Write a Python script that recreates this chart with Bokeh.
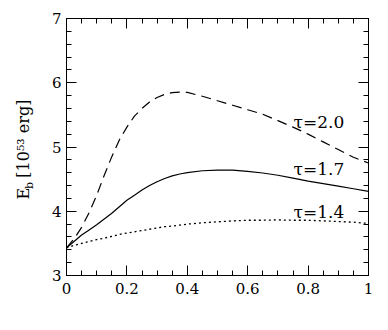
import numpy as np
from bokeh.plotting import figure
from bokeh.models import FixedTicker, LinearAxis, Label, ColumnDataSource
from bokeh.embed import file_html
from bokeh.resources import INLINE

# ---- data ----
x_vals = [0.0, 0.025, 0.05, 0.075, 0.10, 0.125, 0.15, 0.175, 0.20, 0.225, 0.25,
          0.275, 0.30, 0.325, 0.35, 0.375, 0.40, 0.45, 0.50, 0.55, 0.60, 0.65,
          0.70, 0.75, 0.80, 0.85, 0.90, 0.95, 1.0]
eb_tau20 = [3.43, 3.57, 3.75, 3.98, 4.25, 4.56, 4.85, 5.11, 5.31, 5.48, 5.60,
            5.70, 5.77, 5.82, 5.845, 5.855, 5.85, 5.79, 5.72, 5.65, 5.58, 5.51,
            5.41, 5.31, 5.20, 5.08, 4.96, 4.84, 4.75]
eb_tau17 = [3.43, 3.53, 3.63, 3.71, 3.79, 3.88, 3.97, 4.07, 4.17, 4.25, 4.33,
            4.40, 4.46, 4.51, 4.55, 4.58, 4.60, 4.63, 4.64, 4.64, 4.62, 4.595,
            4.56, 4.515, 4.47, 4.43, 4.39, 4.35, 4.31]
eb_tau14 = [3.43, 3.47, 3.50, 3.53, 3.56, 3.58, 3.61, 3.64, 3.66, 3.68, 3.70,
            3.72, 3.74, 3.76, 3.77, 3.785, 3.80, 3.82, 3.835, 3.85, 3.86, 3.86,
            3.865, 3.86, 3.86, 3.85, 3.84, 3.83, 3.81]

series_labels = ["\u03c4=2.0", "\u03c4=1.7", "\u03c4=1.4"]
label_x = [0.752, 0.752, 0.752]
label_y = [5.39, 4.65, 3.985]

x_ticks = [0, 0.2, 0.4, 0.6, 0.8, 1.0]
x_tick_labels = ["0", "0.2", "0.4", "0.6", "0.8", "1"]
y_ticks = [3, 4, 5, 6, 7]
y_tick_labels = ["3", "4", "5", "6", "7"]

# y title "E_b [10^53 erg]": main text plus subscript b
y_title_main = "E\u00a0\u00a0[10\u2075\u00b3 erg]"
y_title_sub = "b"
PAD_MAIN = "\u00a0"                # trailing padding shifts text along the axis
PAD_SUB = "\u00a0" * 22

FONT = "DejaVu Serif"

p = figure(width=380, height=322, x_range=(0, 1), y_range=(3, 7),
           output_backend="svg", toolbar_location=None,
           min_border_left=66, min_border_right=12,
           min_border_top=18, min_border_bottom=47)
p.background_fill_color = "white"
p.border_fill_color = "white"
p.outline_line_color = "black"
p.xgrid.visible = False
p.ygrid.visible = False

src = ColumnDataSource(dict(x=x_vals, a=eb_tau20, b=eb_tau17, c=eb_tau14))
p.line("x", "a", source=src, line_color="black", line_width=1.2, line_dash="10 6")
p.line("x", "b", source=src, line_color="black", line_width=1.2)
p.line("x", "c", source=src, line_color="black", line_width=1.3, line_dash="2 3")

x_minor = [round(v, 3) for v in np.arange(0, 1.0001, 0.05)]
y_minor = [round(v, 3) for v in np.arange(3, 7.0001, 0.2)]

def style_axis(ax, ticks, minor, labels=None):
    ax.ticker = FixedTicker(ticks=ticks, minor_ticks=minor)
    ax.axis_line_color = "black"
    ax.major_tick_line_color = "black"
    ax.minor_tick_line_color = "black"
    ax.major_tick_in = 10
    ax.major_tick_out = 0
    ax.minor_tick_in = 5
    ax.minor_tick_out = 0
    if labels is None:
        ax.major_label_text_font_size = "0px"
        ax.major_label_text_color = None
        ax.major_label_standoff = 0
    else:
        ax.major_label_overrides = {t: l for t, l in zip(ticks, labels)}
        ax.major_label_text_font = FONT
        ax.major_label_text_font_size = "15px"
        ax.major_label_text_color = "black"

style_axis(p.xaxis[0], x_ticks, x_minor, x_tick_labels)
p.xaxis[0].major_label_standoff = 7
style_axis(p.yaxis[0], y_ticks, y_minor, y_tick_labels)
p.yaxis[0].major_label_standoff = 5

top = LinearAxis()
style_axis(top, x_ticks, x_minor)
p.add_layout(top, "above")
right = LinearAxis()
style_axis(right, y_ticks, y_minor)
p.add_layout(right, "right")

def title_axis(text, size, standoff):
    ax = LinearAxis(ticker=FixedTicker(ticks=[]))
    ax.axis_line_color = None
    ax.major_tick_line_color = None
    ax.minor_tick_line_color = None
    ax.major_tick_in = 0
    ax.major_tick_out = 0
    ax.minor_tick_in = 0
    ax.minor_tick_out = 0
    ax.major_label_standoff = 0
    ax.major_label_text_font_size = "0px"
    ax.axis_label = text
    ax.axis_label_text_font = FONT
    ax.axis_label_text_font_size = size
    ax.axis_label_text_font_style = "normal"
    ax.axis_label_text_color = "black"
    ax.axis_label_standoff = standoff
    return ax

# subscript "b" (inner panel), then main title text (outer panel, pulled inward)
p.add_layout(title_axis(y_title_sub + PAD_SUB, "11px", 13), "left")
p.add_layout(title_axis(y_title_main + PAD_MAIN, "16px", -13), "left")

for t, lx, ly in zip(series_labels, label_x, label_y):
    p.add_layout(Label(x=lx, y=ly, text=t, text_font=FONT, text_font_size="17px",
                       text_align="left", text_baseline="alphabetic",
                       text_color="black"))

open("out.html", "w").write(file_html(p, INLINE))
